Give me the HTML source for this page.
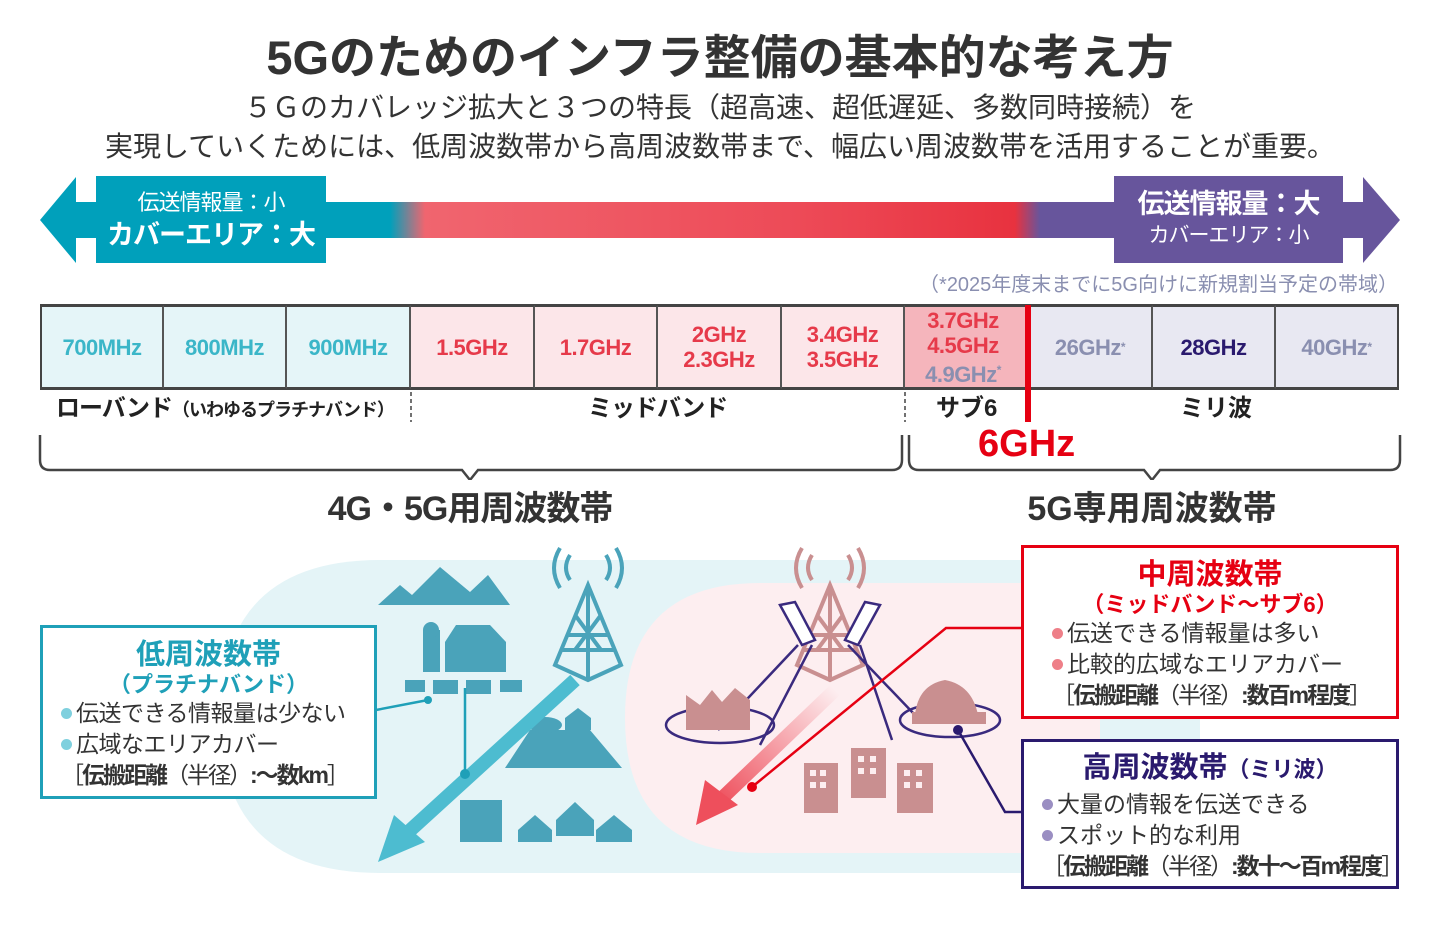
<!DOCTYPE html>
<html><head><meta charset="utf-8">
<style>
body{margin:0;width:1440px;height:930px;background:#fff;overflow:hidden;position:relative;font-family:"Liberation Sans","Noto Sans CJK JP",sans-serif;color:#333}
.a{position:absolute;white-space:nowrap}
.c{text-align:center}
.cell{position:absolute;top:305px;height:84px;display:flex;align-items:center;justify-content:center;text-align:center;font-weight:bold;font-size:22px;line-height:25px;box-sizing:border-box;border-right:2px solid #555;white-space:nowrap;letter-spacing:-0.5px}
sup{font-size:12px;vertical-align:8px}
.box{position:absolute;background:#fff;box-sizing:border-box;border:3px solid;white-space:nowrap}
.dot{display:inline-block;width:11px;height:11px;border-radius:50%;margin-right:4px;vertical-align:2px}
.br{letter-spacing:-2px}
</style></head><body>
<div class="a c" style="left:0;width:1440px;top:28px;font-size:47px;font-weight:bold;color:#333;line-height:60px">5Gのためのインフラ整備の基本的な考え方</div>
<div class="a c" style="left:0;width:1440px;top:90px;font-size:28px;line-height:36px">５Ｇのカバレッジ拡大と３つの特長（超高速、超低遅延、多数同時接続）を</div>
<div class="a c" style="left:0;width:1440px;top:129px;font-size:28px;line-height:36px">実現していくためには、低周波数帯から高周波数帯まで、幅広い周波数帯を活用することが重要。</div>

<div class="a" style="left:300px;top:202px;width:840px;height:36px;background:linear-gradient(90deg,#00a0bb 0,#00a0bb 90px,#f0656f 125px,#ed4a57 500px,#e8323f 715px,#67559c 740px,#67559c 840px)"></div>
<svg class="a" style="left:0;top:0" width="1440" height="280">
<polygon points="40,220 76,177 76,263" fill="#00a0bb"/><rect x="76" y="202" width="30" height="36" fill="#00a0bb"/>
<polygon points="1400,220 1363,177 1363,263" fill="#67559c"/><rect x="1335" y="202" width="30" height="36" fill="#67559c"/>
</svg>
<div class="a c" style="left:96px;top:176px;width:230px;height:87px;background:#00a0bb;color:#fff">
<div style="font-size:22px;line-height:30px;margin-top:12px;letter-spacing:-1px">伝送情報量：小</div>
<div style="font-size:27px;line-height:34px;font-weight:bold;letter-spacing:-1px">カバーエリア：大</div></div>
<div class="a c" style="left:1114px;top:176px;width:229px;height:87px;background:#67559c;color:#fff">
<div style="font-size:27px;line-height:34px;font-weight:bold;margin-top:11px;letter-spacing:-1px">伝送情報量：大</div>
<div style="font-size:21px;line-height:30px;letter-spacing:-1px">カバーエリア：小</div></div>

<div class="a" style="right:42px;top:271px;font-size:20px;color:#8a8fb0;line-height:28px">（*2025年度末までに5G向けに新規割当予定の帯域）</div>

<div class="a" style="left:40px;top:304px;width:1359px;height:86px;border:2px solid #444;box-sizing:border-box"></div>
<div class="cell" style="left:40px;width:124px;background:#e5f5f8;color:#3bb6c8;border-left:2px solid #444;border-top:2px solid #444;border-bottom:2px solid #444">700MHz</div>
<div class="cell" style="left:164px;width:123px;background:#e5f5f8;color:#3bb6c8;border-top:2px solid #444;border-bottom:2px solid #444">800MHz</div>
<div class="cell" style="left:287px;width:124px;background:#e5f5f8;color:#3bb6c8;border-top:2px solid #444;border-bottom:2px solid #444">900MHz</div>
<div class="cell" style="left:411px;width:124px;background:#fce6e9;color:#e63a4a;border-top:2px solid #444;border-bottom:2px solid #444">1.5GHz</div>
<div class="cell" style="left:535px;width:123px;background:#fce6e9;color:#e63a4a;border-top:2px solid #444;border-bottom:2px solid #444">1.7GHz</div>
<div class="cell" style="left:658px;width:124px;background:#fce6e9;color:#e63a4a;border-top:2px solid #444;border-bottom:2px solid #444"><span>2GHz<br>2.3GHz</span></div>
<div class="cell" style="left:782px;width:123px;background:#fce6e9;color:#e63a4a;border-top:2px solid #444;border-bottom:2px solid #444"><span>3.4GHz<br>3.5GHz</span></div>
<div class="cell" style="left:905px;width:124px;background:#f5b5bc;color:#e63a4a;border-top:2px solid #444;border-bottom:2px solid #444;padding-right:6px"><span>3.7GHz<br>4.5GHz<br><span style="color:#8a8fb0">4.9GHz<sup>*</sup></span></span></div>
<div class="cell" style="left:1029px;width:124px;background:#e8e8f2;color:#8a8fb0;border-top:2px solid #444;border-bottom:2px solid #444">26GHz<sup>*</sup></div>
<div class="cell" style="left:1153px;width:123px;background:#e8e8f2;color:#2a1a6e;border-top:2px solid #444;border-bottom:2px solid #444">28GHz</div>
<div class="cell" style="left:1276px;width:123px;background:#e8e8f2;color:#8a8fb0;border:2px solid #444;border-left:none">40GHz<sup>*</sup></div>
<div class="a" style="left:1025px;top:305px;width:6px;height:117px;background:#e60012"></div>

<div class="a" style="left:56px;top:394px;font-size:24px;font-weight:bold;color:#222;line-height:30px;letter-spacing:-1px">ローバンド<span style="font-size:18px">（いわゆるプラチナバンド）</span></div>
<div class="a" style="left:588px;top:394px;font-size:24px;font-weight:bold;color:#222;line-height:30px;letter-spacing:-1px">ミッドバンド</div>
<div class="a" style="left:936px;top:394px;font-size:24px;font-weight:bold;color:#222;line-height:30px">サブ6</div>
<div class="a" style="left:1180px;top:394px;font-size:24px;font-weight:bold;color:#222;line-height:30px">ミリ波</div>
<div class="a" style="left:978px;top:422px;font-size:38px;font-weight:bold;color:#e60012;line-height:44px">6GHz</div>

<svg class="a" style="left:0;top:390px" width="1440" height="90" fill="none">
<line x1="411" y1="2" x2="411" y2="32" stroke="#444" stroke-width="1.5" stroke-dasharray="4,3"/>
<line x1="905" y1="2" x2="905" y2="32" stroke="#444" stroke-width="1.5" stroke-dasharray="4,3"/>
<path d="M40,45 V70 Q40,80 50,80 H462 L470,90 L478,80 H892 Q902,80 902,70 V45" stroke="#444" stroke-width="2.5"/>
<path d="M909,45 V70 Q909,80 919,80 H1144 L1152,90 L1160,80 H1390 Q1400,80 1400,70 V45" stroke="#444" stroke-width="2.5"/>
</svg>
<div class="a c" style="left:270px;width:400px;top:487px;font-size:34px;font-weight:bold;color:#333;line-height:44px;letter-spacing:-1px">4G・5G用周波数帯</div>
<div class="a c" style="left:952px;width:400px;top:487px;font-size:34px;font-weight:bold;color:#333;line-height:44px">5G専用周波数帯</div>

<svg class="a" style="left:0;top:530px" width="1440" height="400">
<path d="M380,30 H1200 V343 H380 Q220,343 220,187 Q220,30 380,30Z" fill="#e4f4f7"/>
<path d="M760,53 H1100 V323 H760 Q625,323 625,188 Q625,53 760,53Z" fill="#fdeef0"/>
<polygon points="378,75 400,55 412,65 440,37 470,62 488,45 510,75" fill="#4aa3ba"/>
<rect x="423" y="100" width="17" height="42" fill="#4aa3ba"/><circle cx="431" cy="100" r="8" fill="#4aa3ba"/>
<polygon points="445,112 456,95 490,95 506,112 506,142 445,142" fill="#4aa3ba"/>
<g fill="#4aa3ba"><rect x="405" y="150" width="20" height="12"/><rect x="433" y="150" width="25" height="14"/><rect x="466" y="150" width="25" height="14"/><rect x="500" y="150" width="22" height="12"/></g>
<polygon points="505,238 530,200 590,200 622,238" fill="#4aa3ba"/>
<polygon points="565,200 565,188 578,178 591,188 591,200" fill="#4aa3ba"/>
<ellipse cx="545" cy="195" rx="17" ry="8" fill="#4aa3ba"/>
<rect x="460" y="270" width="42" height="42" fill="#4aa3ba"/>
<polygon points="518,300 535,285 552,300 552,312 518,312" fill="#4aa3ba"/>
<polygon points="556,290 575,272 594,290 594,306 556,306" fill="#4aa3ba"/>
<polygon points="596,300 614,285 632,300 632,312 596,312" fill="#4aa3ba"/>
<g stroke="#4aa3ba" stroke-width="4" fill="none">
<path d="M588,55 L555,135 L588,150 L621,135 Z M588,55 V150 M568,105 L608,105 M562,120 L614,120 M575,85 L601,120 M601,85 L575,120"/>
<path d="M570,25 Q562,38 570,50 M606,25 Q614,38 606,50 M560,18 Q548,38 560,58 M616,18 Q628,38 616,58"/>
</g>
<line x1="575" y1="150" x2="405" y2="305" stroke="#4dbcd0" stroke-width="14"/>
<polygon points="378,332 394,285 425,312" fill="#4dbcd0"/>
<path d="M376,180 L428,170 M465,158 V244" stroke="#1fa0b8" stroke-width="2.5"/>
<circle cx="428" cy="170" r="4" fill="#1fa0b8"/><circle cx="465" cy="244" r="5" fill="#1fa0b8"/>
<g stroke="#c98f90" stroke-width="4" fill="none">
<path d="M830,55 L797,135 L830,150 L863,135 Z M830,55 V150 M810,105 L850,105 M804,120 L856,120 M817,85 L843,120 M843,85 L817,120"/>
<path d="M812,25 Q804,38 812,50 M848,25 Q856,38 848,50 M802,18 Q790,38 802,58 M858,18 Q870,38 858,58"/>
</g>
<g stroke="#3a2a7e" stroke-width="2.5" fill="#fff">
<polygon points="780,75 795,72 815,110 802,115"/><polygon points="865,72 880,75 858,115 845,110"/>
</g>
<g stroke="#3a2a7e" stroke-width="2.5" fill="none">
<path d="M798,115 L718,200 M812,115 L760,215 M848,115 L915,185 M860,115 L892,210"/>
<ellipse cx="720" cy="195" rx="54" ry="18"/><ellipse cx="950" cy="190" rx="50" ry="17"/>
</g>
<polygon points="686,200 686,165 700,175 712,160 722,172 735,158 750,170 750,200" fill="#c98f90"/>
<path d="M915,185 Q918,155 945,150 Q972,155 978,185 Z" fill="#c98f90"/>
<rect x="912" y="182" width="74" height="12" fill="#c98f90"/>
<g fill="#c98f90"><rect x="804" y="233" width="34" height="50"/><rect x="851" y="218" width="35" height="50"/><rect x="897" y="233" width="36" height="50"/></g>
<g fill="#fdeef0"><rect x="810" y="240" width="6" height="6"/><rect x="820" y="240" width="6" height="6"/><rect x="810" y="252" width="6" height="6"/><rect x="820" y="252" width="6" height="6"/><rect x="858" y="226" width="6" height="6"/><rect x="870" y="226" width="6" height="6"/><rect x="858" y="238" width="6" height="6"/><rect x="870" y="238" width="6" height="6"/><rect x="904" y="240" width="6" height="6"/><rect x="916" y="240" width="6" height="6"/><rect x="904" y="252" width="6" height="6"/><rect x="916" y="252" width="6" height="6"/></g>
<defs><linearGradient id="pg" x1="1" y1="0" x2="0" y2="1"><stop offset="0" stop-color="#fdeef0"/><stop offset="1" stop-color="#ee4f5c"/></linearGradient></defs>
<line x1="835" y1="160" x2="718" y2="272" stroke="url(#pg)" stroke-width="14"/>
<polygon points="696,295 705,250 738,275" fill="#ee4f5c"/>
<path d="M1021,98 H946 L752,257" stroke="#e60012" stroke-width="2.5" fill="none"/><circle cx="752" cy="257" r="5" fill="#e60012"/>
<path d="M958,200 L1005,282 H1021" stroke="#2a1a6e" stroke-width="2.5" fill="none"/><circle cx="958" cy="200" r="5" fill="#2a1a6e"/>
</svg>

<div class="box" style="left:40px;top:625px;width:337px;height:174px;border-color:#1fa0b8">
<div class="c" style="font-size:29px;font-weight:bold;color:#1fa0b8;line-height:34px;margin-top:10px">低周波数帯</div>
<div class="c" style="font-size:22px;font-weight:bold;color:#1fa0b8;line-height:26px">（プラチナバンド）</div>
<div style="font-size:23px;line-height:31px;padding-left:18px;color:#333;letter-spacing:-0.5px"><span class="dot" style="background:#7fd0de"></span>伝送できる情報量は少ない<br><span class="dot" style="background:#7fd0de"></span>広域なエリアカバー<br><span class="br">［<b>伝搬距離</b>（半径）<b>:～数km</b>］</span></div></div>

<div class="box" style="left:1021px;top:545px;width:378px;height:174px;border-color:#e60012">
<div class="c" style="font-size:29px;font-weight:bold;color:#e60012;line-height:34px;margin-top:10px">中周波数帯</div>
<div class="c" style="font-size:22px;font-weight:bold;color:#e60012;line-height:26px">（ミッドバンド～サブ6）</div>
<div style="font-size:23px;line-height:31px;padding-left:28px;color:#333"><span class="dot" style="background:#ee7f88"></span>伝送できる情報量は多い<br><span class="dot" style="background:#ee7f88"></span>比較的広域なエリアカバー<br><span class="br">［<b>伝搬距離</b>（半径）<b>:数百m程度</b>］</span></div></div>

<div class="box" style="left:1021px;top:739px;width:378px;height:150px;border-color:#2a1a6e">
<div class="c" style="font-size:29px;font-weight:bold;color:#2a1a6e;line-height:38px;margin-top:7px">高周波数帯<span style="font-size:22px">（ミリ波）</span></div>
<div style="font-size:23px;line-height:31px;padding-left:18px;color:#333"><span class="dot" style="background:#9a8ec2"></span>大量の情報を伝送できる<br><span class="dot" style="background:#9a8ec2"></span>スポット的な利用<br><span class="br">［<b>伝搬距離</b>（半径）<b>:数十～百m程度</b>］</span></div></div>
</body></html>
